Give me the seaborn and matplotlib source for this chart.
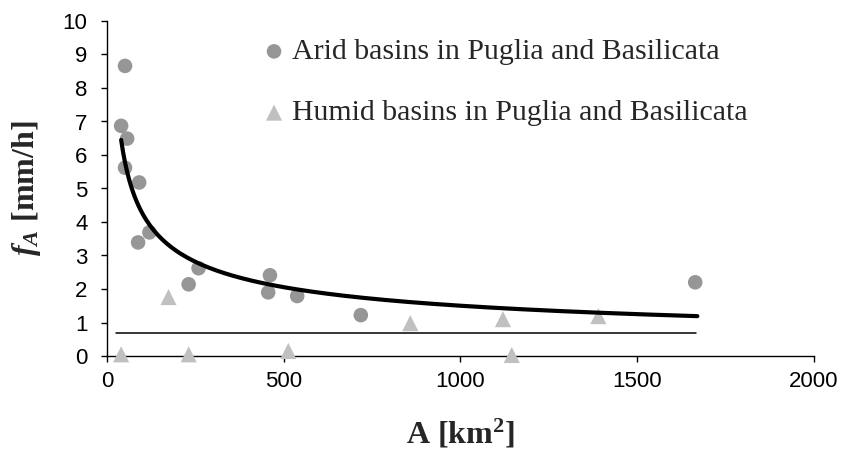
import numpy as np
import pandas as pd
import matplotlib
matplotlib.use("Agg")
import matplotlib.pyplot as plt
import seaborn as sns

# ---- data ----
arid_area = [40, 51, 57, 51, 91, 88, 120, 259, 231, 461, 456, 538, 718, 1664]
arid_fa = [6.87, 8.66, 6.49, 5.62, 5.18, 3.39, 3.69, 2.62, 2.14, 2.41, 1.90, 1.79, 1.22, 2.20]

humid_area = [40, 231, 513, 174, 858, 1120, 1390, 1145]
humid_fa = [0.05, 0.05, 0.15, 1.76, 0.98, 1.10, 1.19, 0.03]

# power-law trendline f = a * A^b (coefficients)
trend_a = 34.3
trend_b = -0.453
trend_range = [40, 1670]

# horizontal reference line
ref_level = 0.7
ref_range = [25, 1665]

x_ticks = [0, 500, 1000, 1500, 2000]
y_ticks = list(range(0, 11))

arid_label = "Arid basins in Puglia and Basilicata"
humid_label = "Humid basins in Puglia and Basilicata"

# ---- style ----
sns.set_theme(style="ticks")
plt.rcParams["font.family"] = ["Liberation Sans", "DejaVu Sans"]
plt.rcParams["mathtext.fontset"] = "custom"
plt.rcParams["mathtext.rm"] = "Liberation Serif:bold"
plt.rcParams["mathtext.it"] = "Liberation Serif:italic:bold"
plt.rcParams["mathtext.bf"] = "Liberation Serif:bold"

fig = plt.figure(figsize=(8.44, 4.65), dpi=100)
ax = fig.add_axes([107 / 844, 1 - 356 / 465, (814 - 107) / 844, (356 - 21) / 465])

trend_x = np.linspace(trend_range[0], trend_range[1], 300)
trend_df = pd.DataFrame({"A": trend_x, "f": trend_a * trend_x ** trend_b})
ref_df = pd.DataFrame({"A": ref_range, "f": [ref_level, ref_level]})
arid_df = pd.DataFrame({"A": arid_area, "f": arid_fa})
humid_df = pd.DataFrame({"A": humid_area, "f": humid_fa})

sns.lineplot(data=ref_df, x="A", y="f", ax=ax, color="black", linewidth=1.1, zorder=2)
sns.scatterplot(data=arid_df, x="A", y="f", ax=ax, marker="o", s=110,
                color="#969696", edgecolor="none", label=arid_label, zorder=3)
sns.scatterplot(data=humid_df, x="A", y="f", ax=ax, marker="^", s=135,
                color="#c0c0c0", edgecolor="none", label=humid_label, zorder=3)
sns.lineplot(data=trend_df, x="A", y="f", ax=ax, color="black", linewidth=3.0, zorder=4)

ax.set_xlim(0, 2000)
ax.set_ylim(0, 10)
ax.set_xticks(x_ticks)
ax.set_yticks(y_ticks)
ax.set_xticklabels([str(t) for t in x_ticks])
ax.set_yticklabels([str(t) for t in y_ticks])
ax.tick_params(axis="both", labelsize=16, length=4, width=1, color="black",
               labelcolor="black", direction="out")
ax.tick_params(axis="x", pad=7)
ax.tick_params(axis="y", pad=10)
for side in ["top", "right"]:
    ax.spines[side].set_visible(False)
for side in ["left", "bottom"]:
    ax.spines[side].set_color("black")
    ax.spines[side].set_linewidth(1.0)
ax.set_facecolor("white")
fig.patch.set_facecolor("white")
ax.margins(0)
for ln in ax.lines:
    ln.set_clip_on(False)
for coll in ax.collections:
    coll.set_clip_on(False)

ax.set_xlabel(r"A [km$^{\mathbf{2}}$]", fontsize=23, fontweight="bold",
              family="Liberation Serif", labelpad=18)
ax.set_ylabel(r"$f_A$ [mm/h]", fontsize=23, fontweight="bold",
              family="Liberation Serif", labelpad=14)

handles, labels = ax.get_legend_handles_labels()
leg = ax.legend(handles, labels, loc="upper left", bbox_to_anchor=(0.194, 0.984),
                frameon=False, prop={"family": "Liberation Serif", "size": 21.5},
                handletextpad=0.0, labelspacing=1.15, borderaxespad=0,
                handlelength=1.2, markerscale=1.0)

fig.savefig("out.png", dpi=100, facecolor="white")
